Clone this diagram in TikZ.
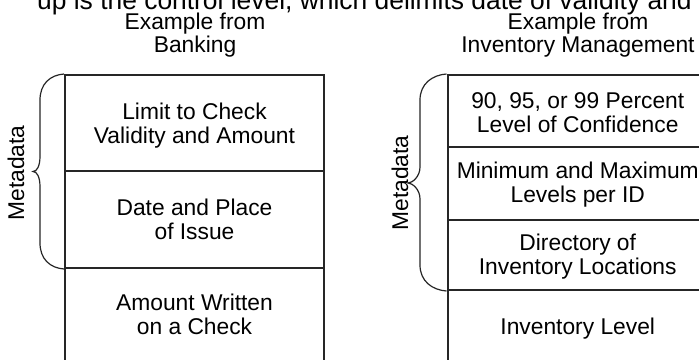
\documentclass[tikz,border=0pt]{standalone}
\usepackage{fontspec}
\setmainfont{Liberation Sans}
\begin{document}
\begin{tikzpicture}[x=1pt,y=-1pt,
  lbl/.style={inner sep=0pt, text=black, font=\fontsize{22.8}{24.5}\selectfont, align=center},
  cell/.style={draw=black!85, line width=2pt, rectangle, inner sep=0pt},
  bracestyle/.style={draw=black!85, line width=1.2pt},
  toptext/.style={inner sep=0pt, text=black, font=\fontsize{26.4}{30}\selectfont, anchor=base west}]
\path[use as bounding box] (0,0) rectangle (699,359);
\clip (0,0) rectangle (699,359);
\fill[white] (0,0) rectangle (699,359);

% cut-off sentence at the top
\node[toptext] (top) at (37,9) {up is the control level, which delimits date of validity and};

% titles
\node[lbl, anchor=base] (t1a) at (195,29.5) {Example from};
\node[lbl, anchor=base] (t1b) at (195,52) {Banking};
\node[lbl, anchor=base] (t2a) at (578,29.5) {Example from};
\node[lbl, anchor=base] (t2b) at (578,52) {Inventory Management};

% left stack (banking)
\node[cell, minimum width=259pt, minimum height=96pt] (c1) at (194.5,123) {};
\node[cell, minimum width=259pt, minimum height=97pt] (c2) at (194.5,219.5) {};
\node[cell, minimum width=259pt, minimum height=97pt] (c3) at (194.5,316.5) {};
\node[lbl] (c1t) at ([yshift=-2.5pt]c1.center) {Limit to Check\\Validity and Amount};
\node[lbl] (c2t) at (c2.center) {Date and Place\\of Issue};
\node[lbl] (c3t) at ([yshift=2pt]c3.center) {Amount Written\\on a Check};

% right stack (inventory)
\node[cell, minimum width=260.5pt, minimum height=72pt] (r1) at (577.75,111) {};
\node[cell, minimum width=260.5pt, minimum height=73pt] (r2) at (577.75,183.5) {};
\node[cell, minimum width=260.5pt, minimum height=70pt] (r3) at (577.75,255) {};
\node[cell, minimum width=260.5pt, minimum height=75pt] (r4) at (577.75,327.5) {};
\node[lbl] (r1t) at ([yshift=-1.5pt]r1.center) {90, 95, or 99 Percent\\Level of Confidence};
\node[lbl] (r2t) at ([yshift=-1pt]r2.center) {Minimum and Maximum\\Levels per ID};
\node[lbl] (r3t) at ([yshift=-1.5pt]r3.center) {Directory of\\Inventory Locations};
\node[lbl] (r4t) at ([yshift=-1.5pt]r4.center) {Inventory Level};

% braces
\draw[bracestyle] (c1.north west) .. controls (50,75) and (40,84) .. (40,100) -- (40,156)
  .. controls (40,166) and (37,171.5) .. (33,171.5)
  .. controls (37,171.5) and (40,177) .. (40,187) -- (40,243)
  .. controls (40,259) and (50,268) .. (c2.south west);
\draw[bracestyle] (r1.north west) .. controls (432,75) and (420,84) .. (420,100) -- (420,167)
  .. controls (420,177) and (412,183) .. (408,183)
  .. controls (412,183) and (420,189) .. (420,199) -- (420,265)
  .. controls (420,281) and (432,290) .. (r3.south west);

% Metadata labels
\node[lbl, rotate=90] (m1) at (16,173) {Metadata};
\node[lbl, rotate=90] (m2) at (400,183) {Metadata};
\end{tikzpicture}
\end{document}
